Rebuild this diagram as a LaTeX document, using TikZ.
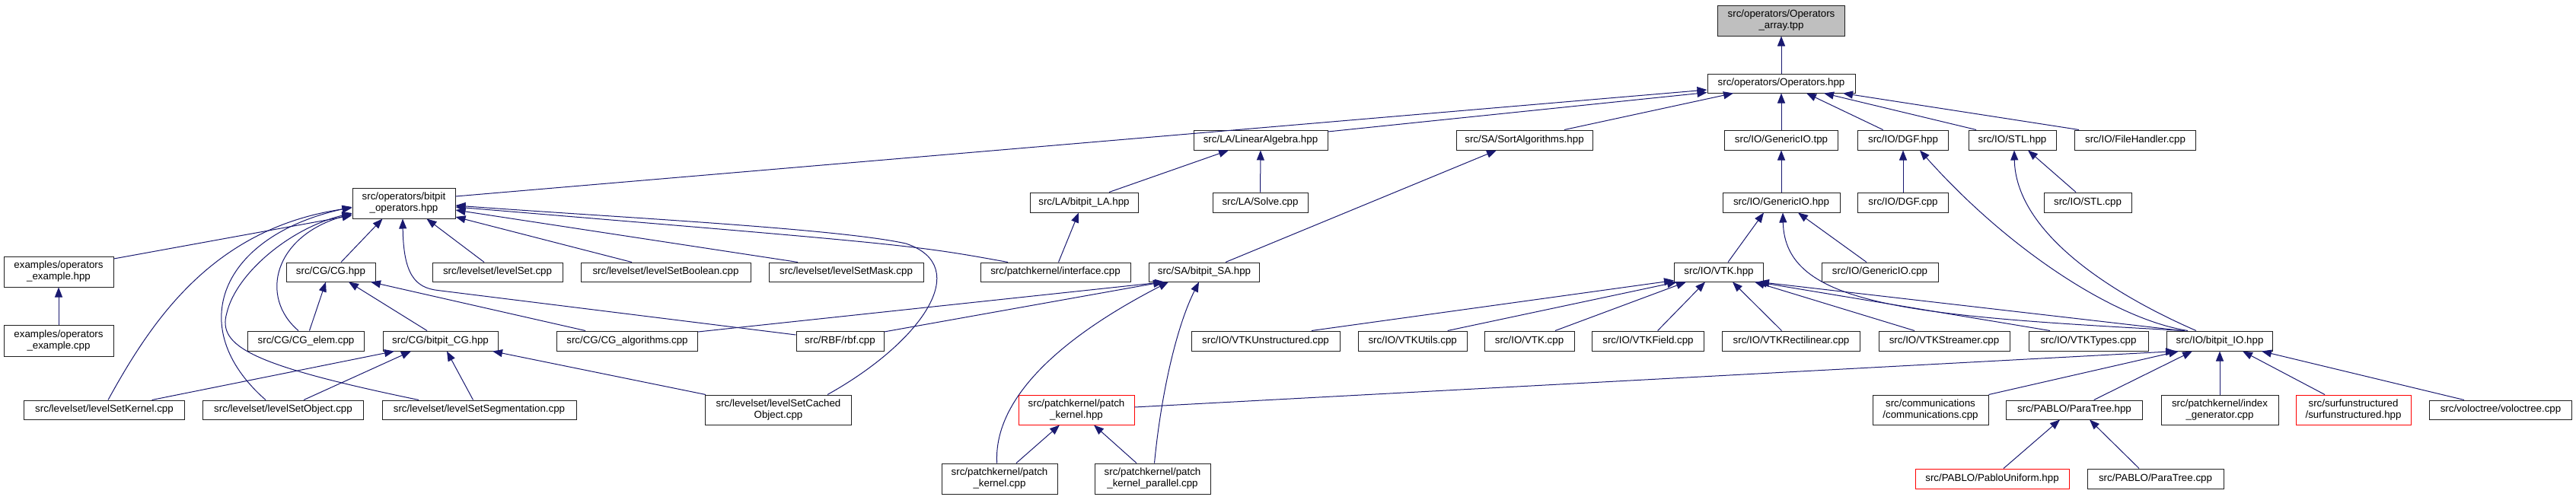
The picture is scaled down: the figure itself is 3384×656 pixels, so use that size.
\documentclass[tikz,border=0pt]{standalone}
\usepackage{fontspec}
\setmainfont{Liberation Sans}
\usetikzlibrary{arrows.meta,calc}
\definecolor{edgec}{HTML}{191970}
\definecolor{rootfill}{HTML}{BFBFBF}
\definecolor{boxline}{HTML}{202020}
\tikzset{
  box/.style={draw=boxline, line width=1pt, fill=white, inner sep=0pt, align=center,
    font=\fontsize{13.33}{15}\selectfont, minimum height=25pt},
  box2/.style={box, minimum height=40pt},
  redbox/.style={box, draw=red},
  rootbox/.style={box2, fill=rootfill},
  edge/.style={draw=edgec, line width=1pt, -{Triangle[length=13pt,width=10pt]}}
}
\begin{document}
\begin{tikzpicture}[x=1pt,y=-1pt]
\useasboundingbox (0,0) rectangle (3384,656);
% row 1-2
\node[rootbox, minimum width=167pt] (root) at (2340,27) {src/operators/Operators\\\_array.tpp};
\node[box, minimum width=194pt] (ops) at (2340,109.5) {src/operators/Operators.hpp};
% row 3
\node[box, minimum width=176pt, minimum height=26pt] (la) at (1656,184) {src/LA/LinearAlgebra.hpp};
\node[box, minimum width=179pt, minimum height=26pt] (sort) at (2002.5,184) {src/SA/SortAlgorithms.hpp};
\node[box, minimum width=149pt, minimum height=26pt] (giotpp) at (2340,184) {src/IO/GenericIO.tpp};
\node[box, minimum width=119pt, minimum height=26pt] (dgfh) at (2500,184) {src/IO/DGF.hpp};
\node[box, minimum width=115pt, minimum height=26pt] (stlh) at (2643.5,184) {src/IO/STL.hpp};
\node[box, minimum width=159pt, minimum height=26pt] (fh) at (2805,184) {src/IO/FileHandler.cpp};
% row 4
\node[box2, minimum width=135pt] (bops) at (530.5,267) {src/operators/bitpit\\\_operators.hpp};
\node[box, minimum width=142pt, minimum height=26pt] (bla) at (1424,266) {src/LA/bitpit\_LA.hpp};
\node[box, minimum width=125pt, minimum height=26pt] (solve) at (1655.5,266) {src/LA/Solve.cpp};
\node[box, minimum width=154pt, minimum height=26pt] (giohpp) at (2340,266) {src/IO/GenericIO.hpp};
\node[box, minimum width=119pt, minimum height=26pt] (dgfc) at (2500,266) {src/IO/DGF.cpp};
\node[box, minimum width=115pt, minimum height=26pt] (stlc) at (2742.5,266) {src/IO/STL.cpp};
% row 5
\node[box2, minimum width=144pt] (exh) at (77,357) {examples/operators\\\_example.hpp};
\node[box, minimum width=117pt] (cgh) at (434.5,357.5) {src/CG/CG.hpp};
\node[box, minimum width=171pt] (ls) at (653.5,357.5) {src/levelset/levelSet.cpp};
\node[box, minimum width=223pt] (lsb) at (874.5,357.5) {src/levelset/levelSetBoolean.cpp};
\node[box, minimum width=203pt] (lsm) at (1111.5,357.5) {src/levelset/levelSetMask.cpp};
\node[box, minimum width=197pt] (intf) at (1386.5,357.5) {src/patchkernel/interface.cpp};
\node[box, minimum width=145pt] (bsa) at (1582,357.5) {src/SA/bitpit\_SA.hpp};
\node[box, minimum width=117pt] (vtkh) at (2258,357.5) {src/IO/VTK.hpp};
\node[box, minimum width=153pt] (gioc) at (2469.5,357.5) {src/IO/GenericIO.cpp};
% row 6
\node[box2, minimum width=144pt, minimum height=41pt] (exc) at (77,447.5) {examples/operators\\\_example.cpp};
\node[box, minimum width=153pt, minimum height=26pt] (cge) at (402,448) {src/CG/CG\_elem.cpp};
\node[box, minimum width=151pt, minimum height=26pt] (bcg) at (578.5,448) {src/CG/bitpit\_CG.hpp};
\node[box, minimum width=185pt, minimum height=26pt] (cga) at (824,448) {src/CG/CG\_algorithms.cpp};
\node[box, minimum width=115pt, minimum height=26pt] (rbf) at (1103.5,448) {src/RBF/rbf.cpp};
\node[box, minimum width=195pt, minimum height=26pt] (vtku) at (1662.5,448) {src/IO/VTKUnstructured.cpp};
\node[box, minimum width=143pt, minimum height=26pt] (vtkut) at (1855.7,448) {src/IO/VTKUtils.cpp};
\node[box, minimum width=118pt, minimum height=26pt] (vtkc) at (2009,448) {src/IO/VTK.cpp};
\node[box, minimum width=147pt, minimum height=26pt] (vtkf) at (2165,448) {src/IO/VTKField.cpp};
\node[box, minimum width=181pt, minimum height=26pt] (vtkr) at (2353,448) {src/IO/VTKRectilinear.cpp};
\node[box, minimum width=172pt, minimum height=26pt] (vtks) at (2554,448) {src/IO/VTKStreamer.cpp};
\node[box, minimum width=157pt, minimum height=26pt] (vtkt) at (2743.5,448) {src/IO/VTKTypes.cpp};
\node[box, minimum width=139pt, minimum height=26pt] (bio) at (2916,448) {src/IO/bitpit\_IO.hpp};
% row 7
\node[box, minimum width=211pt] (lsk) at (137,538.5) {src/levelset/levelSetKernel.cpp};
\node[box, minimum width=211pt] (lso) at (372,538.5) {src/levelset/levelSetObject.cpp};
\node[box, minimum width=255pt] (lss) at (629.5,538.5) {src/levelset/levelSetSegmentation.cpp};
\node[box2, minimum width=192pt, minimum height=39pt] (lsc) at (1022.5,538.5) {src/levelset/levelSetCached\\Object.cpp};
\node[redbox, minimum width=152pt, minimum height=39pt] (pkh) at (1414,538.5) {src/patchkernel/patch\\\_kernel.hpp};
\node[box, minimum width=152pt, minimum height=39pt] (comm) at (2536,538.5) {src/communications\\/communications.cpp};
\node[box, minimum width=179pt] (pth) at (2725,538.5) {src/PABLO/ParaTree.hpp};
\node[box, minimum width=154pt, minimum height=39pt] (idx) at (2916,538.5) {src/patchkernel/index\\\_generator.cpp};
\node[redbox, minimum width=151pt, minimum height=39pt] (surf) at (3091.5,538.5) {src/surfunstructured\\/surfunstructured.hpp};
\node[box, minimum width=187pt] (volo) at (3285,538.5) {src/voloctree/voloctree.cpp};
% row 8
\node[box2, minimum width=152pt] (pkc) at (1313,629) {src/patchkernel/patch\\\_kernel.cpp};
\node[box2, minimum width=152pt] (pkp) at (1514,629) {src/patchkernel/patch\\\_kernel\_parallel.cpp};
\node[redbox, minimum width=202pt, minimum height=26pt] (pu) at (2617,629) {src/PABLO/PabloUniform.hpp};
\node[box, minimum width=179pt, minimum height=26pt] (ptc) at (2831.5,629) {src/PABLO/ParaTree.cpp};

% ---- edges ----
\draw[edge] (ops.north) -- (root.south);
\draw[edge] ($(bops.east)+(0,-9)$) -- ($(ops.west)+(0,8.5)$);
\draw[edge] ($(la.east)+(0,-11)$) -- ($(ops.west)+(0,12)$);
\draw[edge] ($(sort.north)+(52.5,0)$) -- ($(ops.south)+(-63,0)$);
\draw[edge] (giotpp) -- (ops);
\draw[edge] ($(dgfh.north)+(-26.4,0)$) -- ($(ops.south)+(33,0)$);
\draw[edge] ($(stlh.north)+(-47.5,0)$) -- ($(ops.south)+(56,0)$);
\draw[edge] ($(fh.north)+(-74,0)$) -- ($(ops.south)+(81,0)$);
\draw[edge] ($(bla.north)+(33,0)$) -- ($(la.south)+(-42,0)$);
\draw[edge] (solve) -- (la);
\draw[edge] ($(bsa.north)+(28,0)$) -- ($(sort.south)+(-36.5,0)$);
\draw[edge] (giohpp) -- (giotpp);
\draw[edge] (dgfc) -- (dgfh);
\draw[edge] ($(bio.north)+(-42,0)$) .. controls (2780,420) and (2640,330) .. ($(dgfh.south)+(22,0)$);
\draw[edge] ($(bio.north)+(-31,0)$) .. controls (2760,380) and (2648,300) .. ($(stlh.south)+(2.5,0)$);
\draw[edge] ($(stlc.north)+(-15.5,0)$) -- ($(stlh.south)+(20.5,0)$);
\draw[edge] ($(vtkh.north)+(12,0)$) -- ($(giohpp.south)+(-23,0)$);
\draw[edge] ($(bio.north)+(-46,0)$) .. controls (2500,415) and (2345,400) .. ($(giohpp.south)+(2,0)$);
\draw[edge] ($(gioc.north)+(-17.5,0)$) -- ($(giohpp.south)+(22,0)$);
% VTK.hpp
\draw[edge] ($(vtku.north)+(60.5,0)$) -- ($(vtkh.south west)+(0,-2)$);
\draw[edge] ($(vtkut.north)+(46,0)$) -- ($(vtkh.south)+(-55,0)$);
\draw[edge] ($(vtkc.north)+(34,0)$) -- ($(vtkh.south)+(-43,0)$);
\draw[edge] ($(vtkf.north)+(12.6,0)$) -- ($(vtkh.south)+(-18,0)$);
\draw[edge] ($(vtkr.north)+(-12.5,0)$) -- ($(vtkh.south)+(18,0)$);
\draw[edge] ($(vtks.north)+(-39,0)$) -- ($(vtkh.south)+(47,0)$);
\draw[edge] ($(vtkt.north)+(-50.5,0)$) -- ($(vtkh.south)+(50,0)$);
\draw[edge] ($(bio.north)+(-50,0)$) -- ($(vtkh.south)+(53,0)$);
% bitpit_operators
\draw[edge] ($(exh.east)+(0,-17)$) -- ($(bops.west)+(0,16)$);
\draw[edge] ($(lsk.north)+(5,0)$) .. controls (200,420) and (280,300) .. ($(bops.west)+(0,6)$);
\draw[edge] ($(lso.north)+(-23,0)$) .. controls (240,430) and (290,310) .. ($(bops.west)+(0,5)$);
\draw[edge] ($(lss.north)+(-79.5,0)$) .. controls (330,480) and (285,455) .. (298,411) .. controls (310,360) and (380,300) .. ($(bops.west)+(0,13)$);
\draw[edge] ($(cge.north)+(-10,0)$) .. controls (340,390) and (360,310) .. ($(bops.west)+(0,14)$);
\draw[edge] ($(cgh.north)+(13.5,0)$) -- ($(bops.south)+(-28,0)$);
\draw[edge] ($(rbf.west)+(0,-8)$) -- (575,381.5) .. controls (545,378) and (530,360) .. ($(bops.south)+(-1.5,0)$);
\draw[edge] ($(ls.north)+(-17.5,0)$) -- ($(bops.south)+(30,0)$);
\draw[edge] ($(lsb.north)+(-44.5,0)$) -- ($(bops.east)+(0,18)$);
\draw[edge] ($(lsm.north)+(-63.5,0)$) -- ($(bops.east)+(0,9)$);
\draw[edge] ($(intf.north)+(-62.5,0)$) .. controls (1200,322) .. ($(bops.east)+(0,5)$);
\draw[edge] ($(lsc.north)+(64.5,0)$) .. controls (1210,450) and (1280,350) .. (1190,320) .. controls (1100,300) and (800,285) .. ($(bops.east)+(0,3)$);
% CG.hpp
\draw[edge] ($(cge.north)+(4.5,0)$) -- ($(cgh.south)+(-6.5,0)$);
\draw[edge] ($(bcg.north)+(-17.5,0)$) -- ($(cgh.south)+(23.5,0)$);
\draw[edge] ($(cga.north)+(-55,0)$) -- ($(cgh.south)+(52.5,0)$);
% bitpit_CG
\draw[edge] ($(lsk.north)+(62.6,0)$) -- ($(bcg.south)+(-60.5,0)$);
\draw[edge] ($(lso.north)+(27,0)$) -- ($(bcg.south)+(-38.5,0)$);
\draw[edge] ($(lss.north)+(-8,0)$) -- ($(bcg.south)+(8.5,0)$);
\draw[edge] ($(lsc.north)+(-95.5,0)$) -- ($(bcg.south)+(68.5,0)$);
% bitpit_LA
\draw[edge] ($(intf.north)+(4,0)$) -- ($(bla.south)+(-7,0)$);
% bitpit_SA
\draw[edge] ($(cga.east)+(0,-12)$) -- ($(bsa.south)+(-52,0)$);
\draw[edge] ($(rbf.east)+(0,-12)$) -- ($(bsa.south)+(-54,0)$);
\draw[edge] ($(pkc.north)+(-3.4,0)$) .. controls (1305,520) and (1400,440) .. ($(bsa.south)+(-47,0)$);
\draw[edge] ($(pkp.north)+(2.5,0)$) .. controls (1525,520) and (1545,430) .. ($(bsa.south)+(-7,0)$);
% patch_kernel.hpp
\draw[edge] ($(pkc.north)+(22,0)$) -- ($(pkh.south)+(-22,0)$);
\draw[edge] ($(pkp.north)+(-21,0)$) -- ($(pkh.south)+(23,0)$);
% bitpit_IO
\draw[edge] ($(pkh.east)+(0,-3.5)$) -- ($(bio.south)+(-58,0)$);
\draw[edge] (comm.north east) -- ($(bio.south)+(-54,0)$);
\draw[edge] ($(pth.north)+(25.6,0)$) -- ($(bio.south)+(-36,0)$);
\draw[edge] (idx) -- (bio);
\draw[edge] ($(surf.north)+(-37.5,0)$) -- ($(bio.south)+(30,0)$);
\draw[edge] ($(volo.north)+(-48,0)$) -- ($(bio.south)+(55,0)$);
% ParaTree.hpp
\draw[edge] ($(pu.north)+(15,0)$) -- ($(pth.south)+(-19,0)$);
\draw[edge] ($(ptc.north)+(-21.5,0)$) -- ($(pth.south)+(20,0)$);
% examples
\draw[edge] (exc) -- (exh);
\end{tikzpicture}
\end{document}
